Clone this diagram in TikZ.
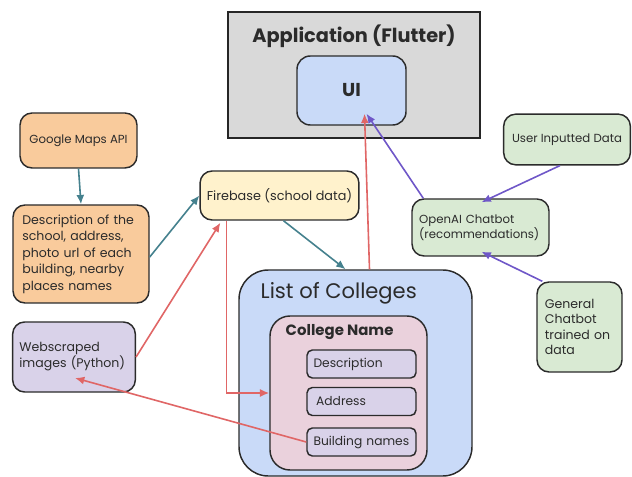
\documentclass[tikz,border=0pt]{standalone}
\usepackage{fontspec}
\setmainfont{Poppins}
\usetikzlibrary{arrows.meta,positioning,calc}
\definecolor{appgray}{HTML}{D9D9D9}
\definecolor{uiblue}{HTML}{C9DAF8}
\definecolor{peach}{HTML}{F9CB9C}
\definecolor{lilac}{HTML}{D9D2E9}
\definecolor{cream}{HTML}{FFF2CC}
\definecolor{rose}{HTML}{EAD1DC}
\definecolor{mint}{HTML}{D9EAD3}
\definecolor{tealc}{HTML}{45818E}
\definecolor{redc}{HTML}{E06666}
\definecolor{purc}{HTML}{6F57C8}
\definecolor{inkc}{HTML}{2B2B2B}
\tikzset{
  card/.style={draw=inkc, line width=1.1pt, rounded corners=9pt, inner sep=5pt,
               font=\fontsize{8.8}{11}\selectfont, text=inkc},
  leftcard/.style={card, align=left},
  fieldbox/.style={card, rounded corners=4pt, minimum width=81.75pt, minimum height=21pt,
                   align=left, text width=72pt, inner sep=4.5pt,
                   font=\fontsize{9.2}{11}\selectfont},
  tarr/.style={-{Latex[length=7pt,width=6pt]}, line width=1.2pt, color=tealc},
  rarr/.style={-{Latex[length=7pt,width=6pt]}, line width=1.2pt, color=redc},
  parr/.style={-{Latex[length=7pt,width=6pt]}, line width=1.2pt, color=purc}}
\begin{document}
\begin{tikzpicture}[x=0.75pt,y=-0.75pt]
  \useasboundingbox (0,0) rectangle (632,477);
  % the app shell
  \node[draw=black!85, line width=1.7pt, fill=appgray, minimum width=189pt,
        minimum height=94.5pt] (app) at (354,75) {};
  \node[font=\fontsize{14.5}{17}\selectfont\bfseries, text=inkc] (apptitle) at (354,36)
    {Application (Flutter)};
  \node[card, fill=uiblue, rounded corners=10pt, minimum width=81.75pt,
        minimum height=51.75pt, font=\fontsize{14}{16}\selectfont\bfseries]
    (ui) at (351.5,90.5) {UI};
  % data sources
  \node[card, fill=peach, minimum width=87.75pt, minimum height=41.25pt]
    (gmaps) at (78.5,140.5) {Google Maps API};
  \node[leftcard, fill=peach, minimum width=102pt, minimum height=73.5pt,
        text width=88pt, font=\fontsize{9.4}{12.4}\selectfont] (desc) at (81,254)
    {Description of the\\school, address,\\photo url of each\\building, nearby\\places names};
  \node[leftcard, fill=lilac, minimum width=91.5pt, minimum height=52.5pt,
        text width=82pt, font=\fontsize{9.4}{12}\selectfont] (web) at (74,357)
    {Webscraped\\images (Python)};
  \node[card, fill=cream, minimum width=117.75pt, minimum height=36.75pt,
        font=\fontsize{9.6}{12}\selectfont] (fire) at (279.5,195.5) {Firebase (school data)};
  % the college list
  \node[card, fill=uiblue, rounded corners=22pt, minimum width=174.75pt,
        minimum height=154.5pt] (list) at (355.5,373) {};
  \node[font=\fontsize{15.8}{18}\selectfont, text=inkc, anchor=west] (listtitle) at (256,293)
    {List of Colleges};
  \node[card, fill=rose, rounded corners=15pt, minimum width=117.75pt,
        minimum height=115.5pt] (coll) at (348.5,393) {};
  \node[font=\fontsize{11.2}{13}\selectfont\bfseries, text=inkc, anchor=west] (colltitle)
    at (281,332) {College Name};
  \node[fieldbox, fill=lilac] (fdesc) at (361.5,364) {Description};
  \node[fieldbox, fill=lilac] (faddr) at (361.5,401.5) {\hspace{2pt}Address};
  \node[fieldbox, fill=lilac] (fbld)  at (361.5,442) {Building names};
  % chatbot side
  \node[card, fill=mint, minimum width=95pt, minimum height=38pt]
    (user) at (567,139.5) {User Inputted Data};
  \node[leftcard, fill=mint, minimum width=102.75pt, minimum height=42.75pt,
        text width=92pt, font=\fontsize{8.8}{11.2}\selectfont] (openai) at (480.5,227.5)
    {OpenAI Chatbot\\(recommendations)};
  \node[leftcard, fill=mint, minimum width=63.75pt, minimum height=67.5pt,
        text width=52pt, font=\fontsize{9.4}{11.5}\selectfont] (general) at (579.5,327)
    {General\\Chatbot\\trained on\\data};
  % connectors
  \draw[tarr] (gmaps.south) -- (desc.north);
  \draw[tarr] ($(desc.east)+(0,3)$) -- (fire.west);
  \draw[tarr] ($(fire.south)+(4,0)$) -- ($(list.north)+(-10,0)$);
  \draw[rarr] (web.east) -- ($(fire.south west)+(21,2)$);
  \draw[rarr] ($(fire.south west)+(27,0)$) |- (coll.west);
  \draw[rarr] (fbld.west) -- ($(web.center)+(1,21)$);
  \draw[rarr] ($(list.north)+(14,0)$) -- ($(ui.south)+(13,-12)$);
  \draw[parr] ($(openai.north west)+(12,0)$) -- ($(ui.south)+(15,-12)$);
  \draw[parr] ($(user.south)+(-7,0)$) -- ($(openai.north)+(1,4)$);
  \draw[parr] ($(general.north west)+(6,0)$) -- ($(openai.south)+(1,-5)$);
\end{tikzpicture}
\end{document}
